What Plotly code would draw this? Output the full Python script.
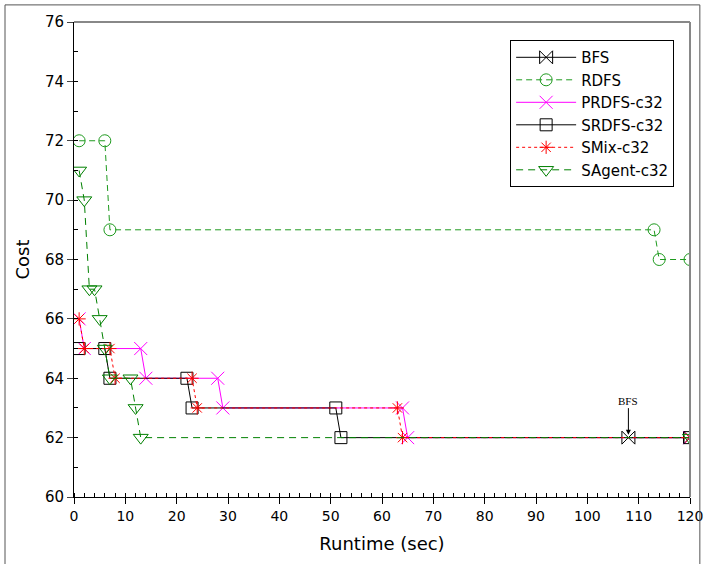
import plotly.graph_objects as go

# ---- data ----
bfs_x = [108, 120]
bfs_y = [62, 62]

rdfs_x = [1, 6, 7, 113, 114, 120]
rdfs_y = [72, 72, 69, 69, 68, 68]

prdfs_x = [1, 2, 13, 14, 28, 29, 64, 65, 120]
prdfs_y = [66, 65, 65, 64, 64, 63, 63, 62, 62]

srdfs_x = [1, 6, 7, 22, 23, 51, 52, 120]
srdfs_y = [65, 65, 64, 64, 63, 63, 62, 62]

smix_x = [1, 2, 7, 8, 23, 24, 63, 64, 120]
smix_y = [66, 65, 65, 64, 64, 63, 63, 62, 62]

sagent_x = [1, 2, 3, 4, 5, 6, 7, 11, 12, 13, 120]
sagent_y = [71, 70, 67, 67, 66, 65, 64, 64, 63, 62, 62]

FONT = "DejaVu Sans"

fig = go.Figure()

def add(name, x, y, color, dash, symbol, size, width=1):
    fig.add_trace(go.Scatter(
        x=x, y=y, name=name, mode="lines+markers",
        line=dict(color=color, width=width, dash=dash),
        marker=dict(symbol=symbol, size=size, color=color,
                    line=dict(color=color, width=1)),
    ))

add("BFS", bfs_x, bfs_y, "black", "solid", "bowtie-open", 13)
add("RDFS", rdfs_x, rdfs_y, "#1e9a1e", "6px,4px", "circle-open", 12)
add("PRDFS-c32", prdfs_x, prdfs_y, "#ff00ff", "solid", "x-thin-open", 13)
add("SRDFS-c32", srdfs_x, srdfs_y, "black", "solid", "square-open", 12)
add("SMix-c32", smix_x, smix_y, "#ff0000", "dot", "asterisk-open", 11)
add("SAgent-c32", sagent_x, sagent_y, "#008000", "7px,5px", "triangle-down-open", 13)

fig.add_annotation(
    x=108, y=62, xref="x", yref="y", text="BFS",
    showarrow=True, arrowhead=2, arrowsize=1, arrowwidth=1, arrowcolor="black",
    ax=0, ay=-37, font=dict(family="Liberation Serif", size=11, color="black"),
    standoff=3,
)

# top and right gray axis lines
fig.add_shape(type="line", xref="paper", yref="paper", x0=0, x1=1, y0=1, y1=1,
              line=dict(color="#888888", width=2))
fig.add_shape(type="line", xref="paper", yref="paper", x0=1, x1=1, y0=0, y1=1,
              line=dict(color="#888888", width=2))
# outer figure border
fig.add_shape(type="rect", xref="paper", yref="paper",
              x0=-0.112, x1=1.016, y0=-0.16, y1=1.036,
              line=dict(color="#555555", width=1))

fig.update_layout(
    width=706, height=564,
    margin=dict(l=74, r=16, t=22, b=67, autoexpand=False),
    paper_bgcolor="white", plot_bgcolor="white",
    font=dict(family=FONT, size=14, color="black"),
    legend=dict(
        x=0.708, y=0.962, xanchor="left", yanchor="top",
        bordercolor="black", borderwidth=1, bgcolor="white",
        font=dict(family=FONT, size=15, color="black"),
        tracegroupgap=0, itemwidth=60,
    ),
    xaxis=dict(
        range=[0, 120], dtick=10, tick0=0, automargin=False,
        showgrid=False, zeroline=False,
        showline=True, linecolor="black", linewidth=1,
        ticks="outside", ticklen=6, tickcolor="black",
        minor=dict(ticks="inside", ticklen=4, dtick=2, tickcolor="black", showgrid=False),
        title=dict(text="Runtime (sec)", font=dict(family=FONT, size=18), standoff=14),
        tickfont=dict(family=FONT, size=14),
    ),
    yaxis=dict(
        range=[60, 76], dtick=2, tick0=60, automargin=False,
        showgrid=False, zeroline=False,
        showline=True, linecolor="black", linewidth=1,
        ticks="outside", ticklen=6, tickcolor="#444444",
        minor=dict(ticks="inside", ticklen=4, dtick=1, tickcolor="black", showgrid=False),
        title=dict(text="Cost", font=dict(family=FONT, size=18), standoff=10),
        tickfont=dict(family=FONT, size=15),
    ),
    showlegend=True,
)

fig.write_html("out.html")
